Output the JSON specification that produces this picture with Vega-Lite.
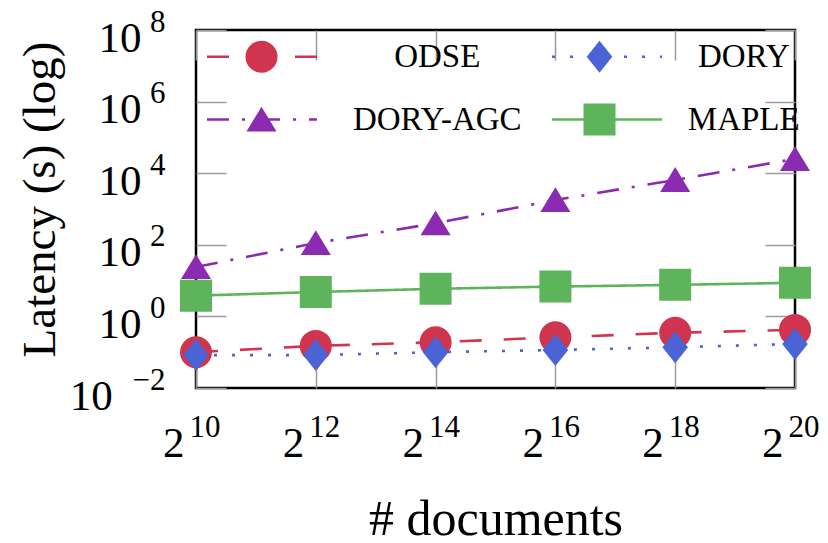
{
  "$schema": "https://vega.github.io/schema/vega-lite/v6.json",
  "width": 599,
  "height": 358,
  "autosize": {"type": "none"},
  "padding": {"left": 196, "top": 30, "right": 33, "bottom": 155},
  "background": "white",
  "config": {
    "view": {"stroke": "black", "strokeWidth": 2.5},
    "font": "Liberation Serif",
    "axis": {
      "domain": false, "grid": false, "tickSize": -30, "tickColor": "#9a9a9a", "tickWidth": 1.5,
      "labelFont": "Liberation Serif", "labelFontSize": 43, "labelColor": "black",
      "titleFont": "Liberation Serif", "titleFontSize": 50, "titleFontWeight": "normal", "titleColor": "black"
    },
    "legend": {"labelFont": "Liberation Serif", "labelFontSize": 33, "labelColor": "black", "padding": 0, "labelLimit": 400}
  },
  "data": {"values": [
    {"method": "ODSE", "docs": 1024, "latency": 0.10},
    {"method": "ODSE", "docs": 4096, "latency": 0.15},
    {"method": "ODSE", "docs": 16384, "latency": 0.19},
    {"method": "ODSE", "docs": 65536, "latency": 0.26},
    {"method": "ODSE", "docs": 262144, "latency": 0.35},
    {"method": "ODSE", "docs": 1048576, "latency": 0.42},
    {"method": "DORY", "docs": 1024, "latency": 0.083},
    {"method": "DORY", "docs": 4096, "latency": 0.083},
    {"method": "DORY", "docs": 16384, "latency": 0.10},
    {"method": "DORY", "docs": 65536, "latency": 0.115},
    {"method": "DORY", "docs": 262144, "latency": 0.137},
    {"method": "DORY", "docs": 1048576, "latency": 0.17},
    {"method": "DORY-AGC", "docs": 1024, "latency": 24},
    {"method": "DORY-AGC", "docs": 4096, "latency": 112},
    {"method": "DORY-AGC", "docs": 16384, "latency": 400},
    {"method": "DORY-AGC", "docs": 65536, "latency": 1780},
    {"method": "DORY-AGC", "docs": 262144, "latency": 6500},
    {"method": "DORY-AGC", "docs": 1048576, "latency": 25000},
    {"method": "MAPLE", "docs": 1024, "latency": 3.8},
    {"method": "MAPLE", "docs": 4096, "latency": 4.8},
    {"method": "MAPLE", "docs": 16384, "latency": 5.9},
    {"method": "MAPLE", "docs": 65536, "latency": 6.8},
    {"method": "MAPLE", "docs": 262144, "latency": 7.6},
    {"method": "MAPLE", "docs": 1048576, "latency": 8.7}
  ]},
  "layer": [
    {
      "mark": {"type": "line", "strokeWidth": 2.6},
      "encoding": {
        "x": {"field": "docs", "type": "quantitative",
          "scale": {"type": "log", "base": 2, "domain": [1024, 1048576], "nice": false},
          "axis": {"orient": "bottom", "values": [1024, 4096, 16384, 65536, 262144, 1048576], "labelPadding": 64.5, "labelAlign": "right", "labelOffset": -12, "title": "# documents", "titlePadding": 29,
            "labelExpr": "'2'"}},
        "y": {"field": "latency", "type": "quantitative",
          "scale": {"type": "log", "domain": [0.01, 100000000], "nice": false},
          "axis": {"orient": "left", "values": [0.01, 1, 100, 10000, 1000000, 100000000], "labelPadding": 85, "labelOffset": 8, "title": "Latency (s) (log)", "titlePadding": 5, "titleFontSize": 47, "titleY": 169,
            "labelExpr": "datum.value < 0.05 ? '10\u2002\u2006\u200B' : '10'"}},
        "color": {"field": "method", "type": "nominal",
          "scale": {"domain": ["ODSE", "DORY", "DORY-AGC", "MAPLE"], "range": ["#D1344F", "#4B63D4", "#8A2BB2", "#5DB45A"]},
          "legend": {"title": null, "orient": "none", "direction": "horizontal", "legendX": 11, "legendY": 10, "columns": 2, "columnPadding": 24, "rowPadding": 29,
            "symbolType": "M-5,0H5", "symbolSize": 484, "symbolStrokeWidth": 2.6, "symbolOffset": 38.5, "labelOffset": 139.5, "labelAlign": "center",
            "labelExpr": "datum.label == 'ODSE' || datum.label == 'DORY-AGC' ? '\u200B\u2003\u2006' + datum.label : datum.label + '\u2003\u2006\u200B'"}},
        "strokeDash": {"field": "method", "type": "nominal",
          "scale": {"domain": ["ODSE", "DORY", "DORY-AGC", "MAPLE"], "range": [[22, 22], [3, 15], [22, 13, 3, 13], [1, 0]]},
          "legend": {"title": null, "orient": "none", "direction": "horizontal", "legendX": 11, "legendY": 10, "columns": 2, "columnPadding": 24, "rowPadding": 29,
            "symbolType": "M-5,0H5", "symbolSize": 484, "symbolStrokeWidth": 2.6, "symbolOffset": 38.5, "labelOffset": 139.5, "labelAlign": "center",
            "labelExpr": "datum.label == 'ODSE' || datum.label == 'DORY-AGC' ? '\u200B\u2003\u2006' + datum.label : datum.label + '\u2003\u2006\u200B'"}}
      }
    },
    {
      "mark": {"type": "point", "filled": true, "size": 1024, "opacity": 1},
      "encoding": {
        "x": {"field": "docs", "type": "quantitative",
          "scale": {"type": "log", "base": 2, "domain": [1024, 1048576], "nice": false},
          "axis": {"orient": "top", "values": [1024, 4096, 16384, 65536, 262144, 1048576], "labels": false, "title": null}},
        "y": {"field": "latency", "type": "quantitative",
          "scale": {"type": "log", "domain": [0.01, 100000000], "nice": false},
          "axis": {"orient": "right", "values": [0.01, 1, 100, 10000, 1000000, 100000000], "labels": false, "title": null}},
        "color": {"field": "method", "type": "nominal",
          "scale": {"domain": ["ODSE", "DORY", "DORY-AGC", "MAPLE"], "range": ["#D1344F", "#4B63D4", "#8A2BB2", "#5DB45A"]},
          "legend": {"title": null, "orient": "none", "direction": "horizontal", "legendX": 11, "legendY": 10, "columns": 2, "columnPadding": 24, "rowPadding": 29,
            "symbolSize": 1024, "symbolStrokeWidth": 0, "symbolOffset": 38, "labelOffset": 139, "labelAlign": "center", "labelOpacity": 0,
            "labelExpr": "datum.label == 'ODSE' || datum.label == 'DORY-AGC' ? '\u200B\u2003\u2006' + datum.label : datum.label + '\u2003\u2006\u200B'"}},
        "shape": {"field": "method", "type": "nominal",
          "scale": {"domain": ["ODSE", "DORY", "DORY-AGC", "MAPLE"], "range": ["circle", "M0,-1L0.8,0L0,1L-0.8,0Z", "M0,-0.8L0.94,0.75L-0.94,0.75Z", "square"]},
          "legend": {"title": null, "orient": "none", "direction": "horizontal", "legendX": 11, "legendY": 10, "columns": 2, "columnPadding": 24, "rowPadding": 29,
            "symbolSize": 1024, "symbolStrokeWidth": 0, "symbolOffset": 38, "labelOffset": 139, "labelAlign": "center", "labelOpacity": 0,
            "labelExpr": "datum.label == 'ODSE' || datum.label == 'DORY-AGC' ? '\u200B\u2003\u2006' + datum.label : datum.label + '\u2003\u2006\u200B'"}}
      }
    },
    {
      "mark": {"type": "point", "opacity": 0},
      "encoding": {
        "x": {"field": "docs", "type": "quantitative",
          "scale": {"type": "log", "base": 2, "domain": [1024, 1048576], "nice": false},
          "axis": {"orient": "bottom", "values": [1024, 4096, 16384, 65536, 262144, 1048576], "ticks": false, "labelFontSize": 31, "labelAlign": "left", "labelOffset": -7, "labelPadding": 24, "title": null,
            "labelExpr": "datum.value == 1024 ? '10' : datum.value == 4096 ? '12' : datum.value == 16384 ? '14' : datum.value == 65536 ? '16' : datum.value == 262144 ? '18' : '20'"}},
        "y": {"field": "latency", "type": "quantitative",
          "scale": {"type": "log", "domain": [0.01, 100000000], "nice": false},
          "axis": {"orient": "left", "values": [0.01, 1, 100, 10000, 1000000, 100000000], "ticks": false, "labelFontSize": 31, "labelAlign": "right", "labelOffset": -8, "labelPadding": 31, "title": null,
            "labelExpr": "datum.value < 0.05 ? '−2' : datum.value < 5 ? '0' : datum.value < 500 ? '2' : datum.value < 50000 ? '4' : datum.value < 5000000 ? '6' : '8'"}}
      }
    }
  ],
  "resolve": {
    "axis": {"x": "independent", "y": "independent"},
    "legend": {"color": "independent", "strokeDash": "independent", "shape": "independent"}
  }
}
